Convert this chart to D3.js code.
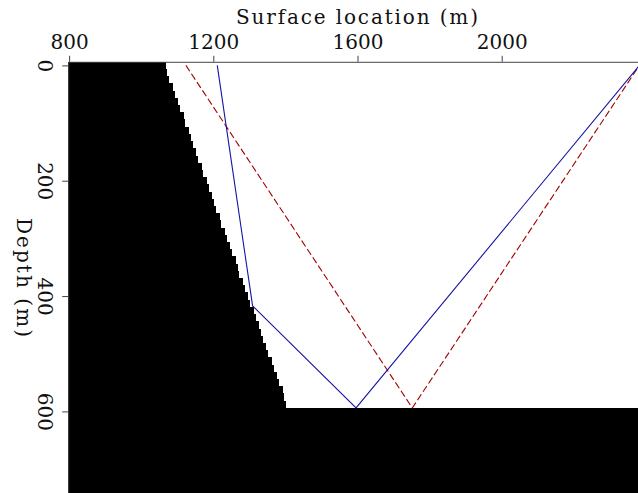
<!DOCTYPE html>
<html>
<head>
<meta charset="utf-8">
<script src="https://cdn.jsdelivr.net/npm/d3@7"></script>
<style>
  html, body { margin: 0; padding: 0; background: #fff; overflow: hidden; }
  svg { display: block; }
  text { font-family: "DejaVu Serif", serif; fill: #111; }
</style>
</head>
<body>
<svg id="chart" width="638" height="493"></svg>
<script>
// Axis ticks (m)
const xTicks = [800, 1200, 1600, 2000];
const zTicks = [0, 200, 400, 600];

// Model: dipping fault given by two points [x, z], flat reflector below
const faultLine = [[1065.5, 0], [1412, 600]];
const reflectorDepth = 600;

// Model grid sampling: [first sample, last sample, spacing] in metres
const gridX = [800, 2420, 5];
const gridZ = [0, 760, 12.5];

// Ray paths [x, z]: through the fault, and the straight reference path
const rayFaulted = [[1211, 0], [1309, 417], [1596, 594], [2382, 0]];
const rayDirect  = [[1124, 0], [1752, 594], [2382, 0]];

const svg = d3.select("#chart");

const x = d3.scaleLinear().domain([800, 2000]).range([69.1, 501.7]);
const z = d3.scaleLinear().domain([0, 600]).range([65.4, 411.4]);

// ---- model raster: black where left of the fault or below the reflector
const [gx0, gx1, dx] = gridX;
const [gz0, gz1, dz] = gridZ;
const faultX = zz => faultLine[0][0] +
  (faultLine[1][0] - faultLine[0][0]) * (zz - faultLine[0][1]) / (faultLine[1][1] - faultLine[0][1]);

const rows = d3.range(gz0, gz1 + dz / 2, dz).map(zc => {
  let edge;
  if (zc >= reflectorDepth) edge = gx1 + dx / 2;
  else edge = gx0 + Math.floor((faultX(zc) - gx0) / dx) * dx + dx / 2;
  return { z0: zc - dz / 2, z1: zc + dz / 2, edge };
});

const left = x(gx0 - dx / 2);
let d = `M${left},${z(rows[0].z0)}`;
rows.forEach(r => {
  d += `H${x(r.edge)}V${z(r.z1)}`;
});
d += `H${left}Z`;

svg.append("path")
  .attr("d", d)
  .attr("fill", "#000")
  .attr("shape-rendering", "crispEdges");

// ---- rays
const line = d3.line().x(p => x(p[0])).y(p => z(p[1]));

svg.append("path")
  .datum(rayDirect)
  .attr("d", line)
  .attr("fill", "none")
  .attr("stroke", "#a00000")
  .attr("stroke-width", 1.1)
  .attr("stroke-dasharray", "7,3");

svg.append("path")
  .datum(rayFaulted)
  .attr("d", line)
  .attr("fill", "none")
  .attr("stroke", "#1414a6")
  .attr("stroke-width", 1.1);

// ---- axes
const xAxisScale = x.copy().domain([gx0 - dx / 2, gx1]).range([x(gx0 - dx / 2), x(gx1)]);
const zAxisScale = z.copy().domain([gz0 - dz / 2, gz1]).range([z(gz0 - dz / 2), z(gz1)]);

const gx = svg.append("g")
  .attr("transform", `translate(0,${z(gz0 - dz / 2)})`)
  .call(d3.axisTop(xAxisScale).tickValues(xTicks).tickFormat(d3.format("d"))
    .tickSize(6).tickSizeOuter(0).tickPadding(7));

const gzAxis = svg.append("g")
  .attr("transform", `translate(${x(gx0 - dx / 2)},0)`)
  .call(d3.axisLeft(zAxisScale).tickValues(zTicks).tickFormat(d3.format("d"))
    .tickSize(6).tickSizeOuter(0));

[gx, gzAxis].forEach(g => {
  g.select(".domain").attr("stroke", "#444").attr("stroke-width", 1);
  g.selectAll(".tick line").attr("stroke", "#444").attr("stroke-width", 1);
  g.selectAll(".tick text")
    .attr("font-family", "DejaVu Serif, serif")
    .attr("font-size", 20)
    .attr("fill", "#111");
});

// depth labels read downward, sitting to the left of the ticks
gzAxis.selectAll(".tick text")
  .attr("transform", "rotate(90)")
  .attr("x", 0)
  .attr("y", 30.2)
  .attr("dy", 0)
  .attr("text-anchor", "middle");

// ---- axis titles
svg.append("text")
  .attr("x", 357)
  .attr("y", 24)
  .attr("text-anchor", "middle")
  .attr("font-size", 20)
  .attr("textLength", 242)
  .attr("lengthAdjust", "spacing")
  .text("Surface location (m)");

svg.append("text")
  .attr("transform", "translate(16.5,277.5) rotate(90)")
  .attr("text-anchor", "middle")
  .attr("font-size", 20)
  .attr("textLength", 119)
  .attr("lengthAdjust", "spacing")
  .text("Depth (m)");
</script>
</body>
</html>
